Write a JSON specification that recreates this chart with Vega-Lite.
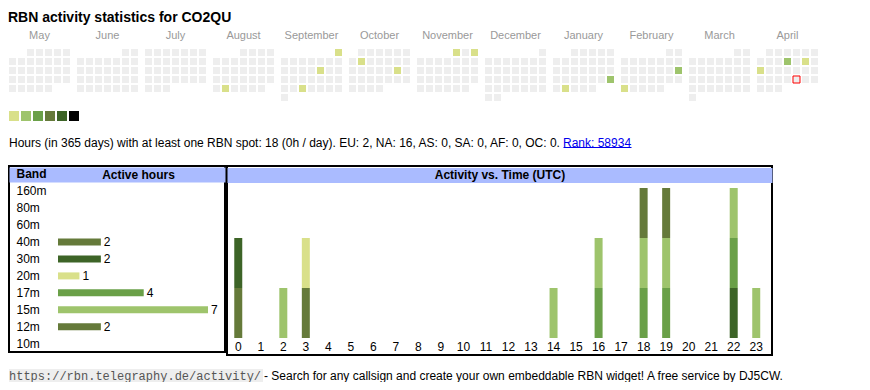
{
  "$schema": "https://vega.github.io/schema/vega-lite/v6.json",
  "padding": {"left": 8, "top": 11, "right": 0, "bottom": 0},
  "background": "white",
  "config": {
    "font": "Liberation Sans",
    "view": {"stroke": null},
    "axis": {"labelFont": "Liberation Sans", "titleFont": "Liberation Sans"},
    "header": {"labelFont": "Liberation Sans"}
  },
  "title": {"text": "RBN activity statistics for CO2QU", "anchor": "start", "fontSize": 14, "fontWeight": "bold", "color": "#000000", "offset": 5},
  "spacing": 13,
  "resolve": {"scale": {"color": "independent"}},
  "vconcat": [
    {
      "spacing": 10,
      "resolve": {"scale": {"color": "independent"}},
      "vconcat": [
        {
          "data": {"values": [
            {"m":"May","w":0,"d":[2,3,4,5,6],"v":[0,0,0,0,0]},
            {"m":"May","w":1,"d":[0,1,2,3,4,5,6],"v":[0,0,0,0,0,0,0]},
            {"m":"May","w":2,"d":[0,1,2,3,4,5,6],"v":[0,0,0,0,0,0,0]},
            {"m":"May","w":3,"d":[0,1,2,3,4,5,6],"v":[0,0,0,0,0,0,0]},
            {"m":"May","w":4,"d":[0,1,2,3,4],"v":[0,0,0,0,0]},
            {"m":"June","w":0,"d":[5,6],"v":[0,0]},
            {"m":"June","w":1,"d":[0,1,2,3,4,5,6],"v":[0,0,0,0,0,0,0]},
            {"m":"June","w":2,"d":[0,1,2,3,4,5,6],"v":[0,0,0,0,0,0,0]},
            {"m":"June","w":3,"d":[0,1,2,3,4,5,6],"v":[0,0,0,0,0,0,0]},
            {"m":"June","w":4,"d":[0,1,2,3,4,5,6],"v":[0,0,0,0,0,0,0]},
            {"m":"July","w":0,"d":[0,1,2,3,4,5,6],"v":[0,0,0,0,0,0,0]},
            {"m":"July","w":1,"d":[0,1,2,3,4,5,6],"v":[0,0,0,0,0,0,0]},
            {"m":"July","w":2,"d":[0,1,2,3,4,5,6],"v":[0,0,0,0,0,0,0]},
            {"m":"July","w":3,"d":[0,1,2,3,4,5,6],"v":[0,0,0,0,0,0,0]},
            {"m":"July","w":4,"d":[0,1,2],"v":[0,0,0]},
            {"m":"August","w":0,"d":[3,4,5,6],"v":[0,0,0,0]},
            {"m":"August","w":1,"d":[0,1,2,3,4,5,6],"v":[0,0,0,0,0,0,0]},
            {"m":"August","w":2,"d":[0,1,2,3,4,5,6],"v":[0,0,0,0,0,0,0]},
            {"m":"August","w":3,"d":[0,1,2,3,4,5,6],"v":[0,0,0,0,0,0,0]},
            {"m":"August","w":4,"d":[0,1,2,3,4,5],"v":[0,1,0,0,0,0]},
            {"m":"September","w":0,"d":[6],"v":[1]},
            {"m":"September","w":1,"d":[0,1,2,3,4,5,6],"v":[0,0,0,0,0,0,0]},
            {"m":"September","w":2,"d":[0,1,2,3,4,5,6],"v":[0,0,0,0,1,0,0]},
            {"m":"September","w":3,"d":[0,1,2,3,4,5,6],"v":[0,0,0,0,0,0,0]},
            {"m":"September","w":4,"d":[0,1,2,3,4,5,6],"v":[0,0,1,0,0,0,0]},
            {"m":"September","w":5,"d":[0],"v":[0]},
            {"m":"October","w":0,"d":[1,2,3,4,5,6],"v":[0,0,0,0,0,0]},
            {"m":"October","w":1,"d":[0,1,2,3,4,5,6],"v":[0,1,0,0,0,0,0]},
            {"m":"October","w":2,"d":[0,1,2,3,4,5,6],"v":[0,0,0,0,0,1,0]},
            {"m":"October","w":3,"d":[0,1,2,3,4,5,6],"v":[0,0,0,0,0,0,0]},
            {"m":"October","w":4,"d":[0,1,2,3],"v":[0,0,0,0]},
            {"m":"November","w":0,"d":[4,5,6],"v":[1,0,1]},
            {"m":"November","w":1,"d":[0,1,2,3,4,5,6],"v":[0,0,0,0,0,0,0]},
            {"m":"November","w":2,"d":[0,1,2,3,4,5,6],"v":[0,0,0,0,0,0,0]},
            {"m":"November","w":3,"d":[0,1,2,3,4,5,6],"v":[0,0,0,0,0,0,0]},
            {"m":"November","w":4,"d":[0,1,2,3,4,5],"v":[0,0,0,0,0,0]},
            {"m":"December","w":0,"d":[6],"v":[0]},
            {"m":"December","w":1,"d":[0,1,2,3,4,5,6],"v":[0,0,0,0,0,0,0]},
            {"m":"December","w":2,"d":[0,1,2,3,4,5,6],"v":[0,0,0,0,0,0,0]},
            {"m":"December","w":3,"d":[0,1,2,3,4,5,6],"v":[0,0,0,0,0,0,0]},
            {"m":"December","w":4,"d":[0,1,2,3,4,5,6],"v":[0,0,0,0,0,0,0]},
            {"m":"December","w":5,"d":[0,1],"v":[0,0]},
            {"m":"January","w":0,"d":[2,3,4,5,6],"v":[0,0,0,0,0]},
            {"m":"January","w":1,"d":[0,1,2,3,4,5,6],"v":[0,0,0,0,0,0,0]},
            {"m":"January","w":2,"d":[0,1,2,3,4,5,6],"v":[0,0,0,0,0,0,0]},
            {"m":"January","w":3,"d":[0,1,2,3,4,5,6],"v":[0,0,0,0,0,0,2]},
            {"m":"January","w":4,"d":[0,1,2,3,4],"v":[0,1,0,0,0]},
            {"m":"February","w":0,"d":[5,6],"v":[0,0]},
            {"m":"February","w":1,"d":[0,1,2,3,4,5,6],"v":[0,0,0,0,0,0,0]},
            {"m":"February","w":2,"d":[0,1,2,3,4,5,6],"v":[0,0,0,0,0,0,2]},
            {"m":"February","w":3,"d":[0,1,2,3,4,5,6],"v":[0,0,0,0,0,0,0]},
            {"m":"February","w":4,"d":[0,1,2,3,4],"v":[1,0,0,0,0]},
            {"m":"March","w":0,"d":[5,6],"v":[0,0]},
            {"m":"March","w":1,"d":[0,1,2,3,4,5,6],"v":[0,0,0,0,0,0,0]},
            {"m":"March","w":2,"d":[0,1,2,3,4,5,6],"v":[0,0,0,0,0,0,0]},
            {"m":"March","w":3,"d":[0,1,2,3,4,5,6],"v":[0,0,0,0,0,0,0]},
            {"m":"March","w":4,"d":[0,1,2,3,4,5,6],"v":[0,0,0,0,0,0,0]},
            {"m":"March","w":5,"d":[0],"v":[0]},
            {"m":"April","w":0,"d":[1,2,3,4,5,6],"v":[0,0,0,0,0,0]},
            {"m":"April","w":1,"d":[0,1,2,3,4,5,6],"v":[0,0,0,2,0,1,0]},
            {"m":"April","w":2,"d":[0,1,2,3,4,5,6],"v":[1,0,0,0,0,0,0]},
            {"m":"April","w":3,"d":[0,1,2,3,4,5,6],"v":[0,0,0,0,9,0,0]},
            {"m":"April","w":4,"d":[0,1,2],"v":[0,0,0]}
          ]},
          "transform": [{"flatten": ["d", "v"]}],
          "bounds": "flush",
          "facet": {
            "column": {
              "field": "m", "type": "nominal",
              "sort": ["May","June","July","August","September","October","November","December","January","February","March","April"],
              "header": {"title": null, "labelFontSize": 11, "labelColor": "#999999", "labelPadding": 8}
            }
          },
          "spacing": {"column": 7},
          "spec": {
            "width": 61,
            "height": 52,
            "mark": {"type": "rect", "strokeWidth": 1},
            "encoding": {
              "x": {"field": "d", "type": "ordinal", "axis": null, "scale": {"domain": [0,1,2,3,4,5,6], "paddingInner": 0.2222, "paddingOuter": 0}},
              "y": {"field": "w", "type": "ordinal", "axis": null, "scale": {"domain": [0,1,2,3,4,5], "paddingInner": 0.2222, "paddingOuter": 0}},
              "color": {"field": "v", "type": "ordinal", "legend": null, "scale": {"domain": [0,1,2,9], "range": ["#eeeeee","#d9e08a","#9ec46c","#eeeeee"]}},
              "stroke": {"condition": {"test": "datum.v === 9", "value": "#ff0000"}, "value": null}
            }
          }
        },
        {
          "width": {"step": 12},
          "height": 10,
          "data": {"values": [{"lv":1},{"lv":2},{"lv":3},{"lv":4},{"lv":5},{"lv":6}]},
          "mark": "rect",
          "encoding": {
            "x": {"field": "lv", "type": "ordinal", "axis": null, "scale": {"paddingInner": 0.1667, "paddingOuter": 0}},
            "color": {"field": "lv", "type": "ordinal", "legend": null, "scale": {"domain": [1,2,3,4,5,6], "range": ["#d9e08a","#9ec46c","#6aa048","#657a3a","#3d6427","#000000"]}}
          }
        },
        {
          "spacing": 1,
          "hconcat": [
            {
              "width": 1,
              "height": 24,
              "data": {"values": [{"s": "Hours (in 365 days) with at least one RBN spot: 18 (0h / day). EU: 2, NA: 16, AS: 0, SA: 0, AF: 0, OC: 0."}]},
              "mark": {"type": "text", "align": "left", "baseline": "middle", "fontSize": 12, "color": "#000000"},
              "encoding": {
                "text": {"field": "s"},
                "x": {"field": "s", "type": "nominal", "axis": null, "scale": {"align": 0}}
              }
            },
            {
              "width": 68,
              "height": 24,
              "data": {"values": [{"s": "Rank: 58934"}]},
              "mark": {"type": "text", "align": "left", "baseline": "middle", "fontSize": 12, "color": "#0000ee"},
              "encoding": {
                "text": {"field": "s"},
                "x": {"field": "s", "type": "nominal", "scale": {"align": 0},
                      "axis": {"orient": "bottom", "offset": -8, "domain": true, "domainColor": "#0000ee", "domainWidth": 1, "ticks": false, "labels": false, "grid": false, "title": null}}
              }
            }
          ]
        },
        {
          "spacing": 0,
          "hconcat": [
            {
              "width": 216,
              "height": 186,
              "view": {"stroke": "#000000", "strokeWidth": 2},
              "data": {"values": [
                {"band":"40m","h":2},{"band":"30m","h":2},{"band":"20m","h":1},
                {"band":"17m","h":4},{"band":"15m","h":7},{"band":"12m","h":2}
              ]},
              "encoding": {
                "y": {"field": "band", "type": "nominal",
                      "scale": {"domain": ["Band","160m","80m","60m","40m","30m","20m","17m","15m","12m","10m"], "paddingInner": 0, "paddingOuter": 0},
                      "axis": {"orient": "left", "title": null, "domain": false, "ticks": false, "grid": false, "labelAlign": "left", "labelBaseline": "middle", "labelPadding": -7, "labelFontSize": 12, "labelColor": "#000000", "zindex": 1,
                               "labelFontWeight": {"condition": {"test": "datum.value === 'Band'", "value": "bold"}, "value": "normal"}}},
                "x": {"field": "h", "type": "quantitative",
                      "scale": {"domain": [-2.287, 7.793], "nice": false, "zero": false},
                      "axis": {"orient": "top", "offset": -8.5, "domain": true, "domainColor": "#aabbff", "domainWidth": 15, "domainCap": "butt", "ticks": false, "labels": false, "grid": false,
                               "title": "Active hours", "titleFontSize": 12, "titleFontWeight": "bold", "titleColor": "#000000", "titleX": 129, "titleY": 0, "titleAlign": "center", "titleBaseline": "middle", "titleAngle": 0}}
              },
              "layer": [
                {"mark": {"type": "bar", "height": 7},
                 "encoding": {"color": {"field": "band", "type": "nominal", "legend": null,
                   "scale": {"domain": ["160m","80m","60m","40m","30m","20m","17m","15m","12m","10m"], "range": ["#000000","#3d6427","#657a3a","#657a3a","#3d6427","#d9e08a","#6aa048","#9ec46c","#657a3a","#000000"]}}}},
                {"mark": {"type": "text", "align": "left", "baseline": "middle", "dx": 3, "fontSize": 12, "color": "#000000"},
                 "encoding": {"text": {"field": "h", "type": "quantitative"}}}
              ]
            },
            {
              "width": 545,
              "height": 189,
              "view": {"stroke": "#000000", "strokeWidth": 2},
              "data": {"values": [
                {"hour":0,"band":"40m"},{"hour":0,"band":"30m"},
                {"hour":2,"band":"15m"},
                {"hour":3,"band":"40m"},{"hour":3,"band":"20m"},
                {"hour":14,"band":"15m"},
                {"hour":16,"band":"17m"},{"hour":16,"band":"15m"},
                {"hour":18,"band":"17m"},{"hour":18,"band":"15m"},{"hour":18,"band":"12m"},
                {"hour":19,"band":"17m"},{"hour":19,"band":"15m"},{"hour":19,"band":"12m"},
                {"hour":22,"band":"30m"},{"hour":22,"band":"17m"},{"hour":22,"band":"15m"},
                {"hour":23,"band":"15m"}
              ]},
              "mark": {"type": "bar", "width": {"band": 0.355}},
              "encoding": {
                "x": {"field": "hour", "type": "ordinal",
                      "scale": {"domain": [0,1,2,3,4,5,6,7,8,9,10,11,12,13,14,15,16,17,18,19,20,21,22,23], "paddingInner": 0, "paddingOuter": 0.1, "align": 0},
                      "axis": {"orient": "bottom", "offset": -17, "title": null, "domain": false, "ticks": false, "grid": false, "labelAngle": 0, "labelPadding": 3, "labelFontSize": 12, "labelColor": "#000000"}},
                "y": {"aggregate": "count", "type": "quantitative",
                      "scale": {"domain": [-0.34, 3.44], "nice": false, "zero": false},
                      "axis": {"orient": "left", "domain": false, "ticks": false, "labels": false, "grid": true, "values": [3.27], "gridColor": "#aabbff", "gridWidth": 15, "gridOpacity": 1, "gridCap": "butt",
                               "title": "Activity vs. Time (UTC)", "titleAngle": 0, "titleX": 272.5, "titleY": 8.5, "titleAlign": "center", "titleBaseline": "middle", "titleFontWeight": "bold", "titleFontSize": 12, "titleColor": "#000000"}},
                "color": {"field": "band", "type": "nominal", "legend": null,
                  "scale": {"domain": ["160m","80m","60m","40m","30m","20m","17m","15m","12m","10m"], "range": ["#000000","#3d6427","#657a3a","#657a3a","#3d6427","#d9e08a","#6aa048","#9ec46c","#657a3a","#000000"]}},
                "order": {"field": "band", "type": "ordinal", "sort": "descending"}
              }
            }
          ]
        }
      ]
    },
    {
      "spacing": 1,
      "hconcat": [
        {
          "width": 254,
          "height": 13,
          "view": {"fill": "#eeeeee", "stroke": null},
          "data": {"values": [{"s": "https://rbn.telegraphy.de/activity/"}]},
          "mark": {"type": "text", "align": "left", "baseline": "middle", "font": "Liberation Mono", "fontSize": 12, "color": "#555555"},
          "encoding": {
            "text": {"field": "s"},
            "x": {"field": "s", "type": "nominal", "axis": null, "scale": {"align": 0}}
          }
        },
        {
          "width": 1,
          "height": 13,
          "data": {"values": [{"s": "- Search for any callsign and create your own embeddable RBN widget! A free service by DJ5CW."}]},
          "mark": {"type": "text", "align": "left", "baseline": "middle", "fontSize": 12, "color": "#000000"},
          "encoding": {
            "text": {"field": "s"},
            "x": {"field": "s", "type": "nominal", "axis": null, "scale": {"align": 0}}
          }
        }
      ]
    }
  ]
}
